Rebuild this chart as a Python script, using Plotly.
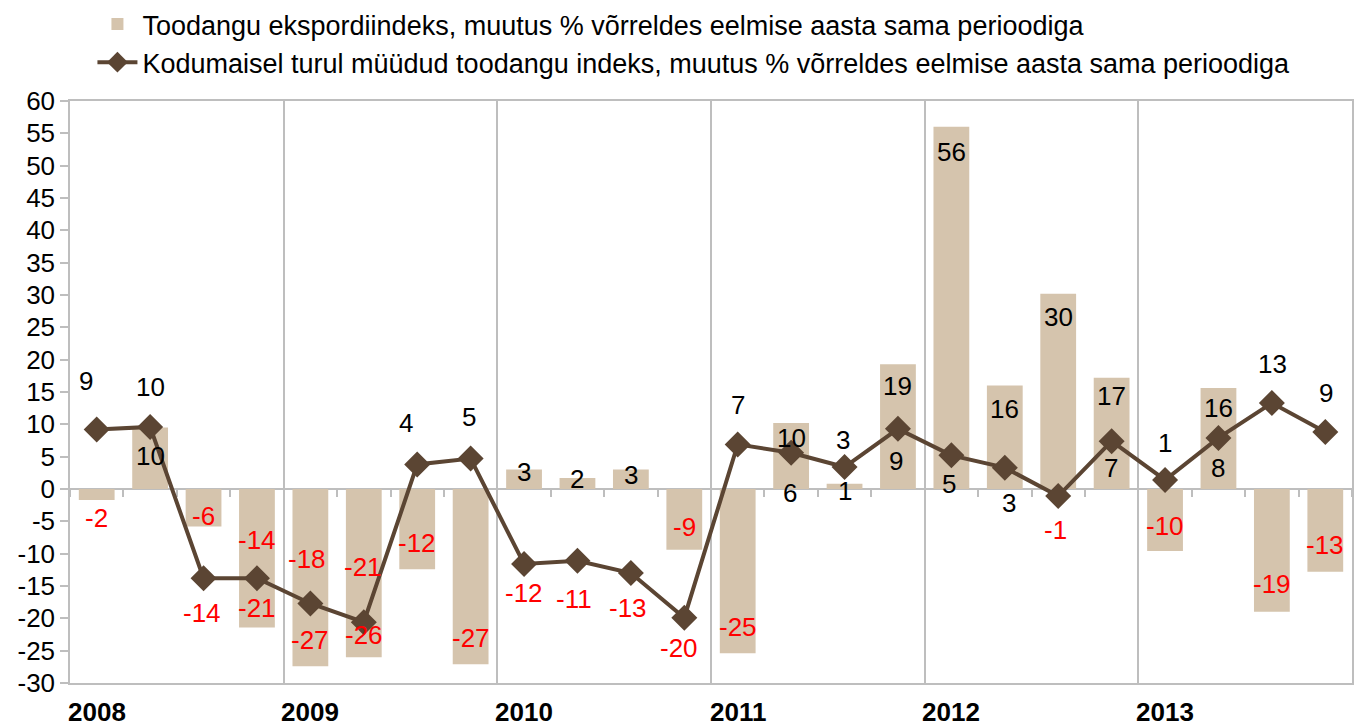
import plotly.graph_objects as go

quarters = ["2008 I", "2008 II", "2008 III", "2008 IV",
            "2009 I", "2009 II", "2009 III", "2009 IV",
            "2010 I", "2010 II", "2010 III", "2010 IV",
            "2011 I", "2011 II", "2011 III", "2011 IV",
            "2012 I", "2012 II", "2012 III", "2012 IV",
            "2013 I", "2013 II", "2013 III", "2013 IV"]
years = ["2008", "2009", "2010", "2011", "2012", "2013"]

export_idx = [-1.7, 9.5, -5.8, -21.4, -27.4, -26.0, -12.4, -27.1,
              3.0, 1.7, 3.0, -9.4, -25.4, 10.2, 0.8, 19.3,
              56.0, 16.0, 30.2, 17.2, -9.6, 15.6, -19.0, -12.8]
domestic_idx = [9.2, 9.6, -13.8, -13.8, -17.7, -20.6, 3.8, 4.7,
                -11.6, -11.1, -13.0, -19.9, 6.9, 5.6, 3.4, 9.3,
                5.2, 3.3, -1.1, 7.4, 1.4, 7.9, 13.3, 8.8]

y_tick_vals = [-30, -25, -20, -15, -10, -5, 0, 5, 10, 15, 20, 25, 30, 35, 40, 45, 50, 55, 60]
y_tick_text = ["-30", "-25", "-20", "-15", "-10", "-5", "0", "5", "10", "15", "20",
               "25", "30", "35", "40", "45", "50", "55", "60"]

name_bar = "Toodangu ekspordiindeks, muutus % võrreldes eelmise aasta sama perioodiga"
name_line = "Kodumaisel turul müüdud toodangu indeks, muutus % võrreldes eelmise aasta sama perioodiga"

# label placement offsets in pixels (screen down = positive)
bar_lbl_dy = [18, 28, -11, -19, -26, -22, -26, -26, 2, 1, 5, -23,
              -26, 15, 7, 22, 25, 23, 23, 18, -25, 20, -28, -27]
line_lbl_dy = [-49, -40, 35, -38, -44, -55, -41, -42, 29, 38, 35, 30,
               -39, 40, -27, 32, 29, 35, 34, 27, -37, 30, -39, -39]
line_lbl_dx = [-11, 0, -2, 0, -3, -1, -11, -2, 0, -3, -3, -5,
               0, -1, -2, -2, -2, 4, -3, -1, 0, 0, 1, 1]

n = len(quarters)
xs = list(range(n))
BAR_COLOR = "#D5C4AD"
LINE_COLOR = "#5B4533"
AXIS_COLOR = "#BEBEBE"
FONT = "Liberation Sans, Arial, sans-serif"
FS = 26


def lbl(v):
    r = round(v)
    return f"-{abs(r)}" if r < 0 else f"{r}"


fig = go.Figure()
fig.add_trace(go.Bar(x=xs, y=export_idx, name=name_bar, marker_color=BAR_COLOR,
                     marker_line_width=0, hovertext=quarters))
fig.add_trace(go.Scatter(x=xs, y=domestic_idx, name=name_line, mode="lines+markers",
                         line=dict(color=LINE_COLOR, width=4),
                         marker=dict(symbol="diamond", size=20, color=LINE_COLOR),
                         hovertext=quarters, xaxis="x2"))

ann = []
for i, v in enumerate(export_idx):
    ann.append(dict(x=i, y=v, xref="x", yref="y", text=lbl(v), showarrow=False,
                    yshift=-bar_lbl_dy[i], yanchor="middle",
                    font=dict(family=FONT, size=FS, color="#FF0000" if v < 0 else "#000000")))
for i, v in enumerate(domestic_idx):
    ann.append(dict(x=i, y=v, xref="x", yref="y", text=lbl(v), showarrow=False,
                    yshift=-line_lbl_dy[i], xshift=line_lbl_dx[i], yanchor="middle",
                    font=dict(family=FONT, size=FS, color="#FF0000" if v < 0 else "#000000")))
per_year = n // len(years)
for k, yr in enumerate(years):
    ann.append(dict(x=k * per_year, y=0, xref="x", yref="paper", text=f"<b>{yr}</b>",
                    showarrow=False, yshift=-29, yanchor="middle",
                    font=dict(family=FONT, size=FS, color="#000000")))

year_bounds = [k * per_year - 0.5 for k in range(1, len(years))]
all_bounds = [i - 0.5 for i in range(n + 1)]
ymin, ymax = y_tick_vals[0], y_tick_vals[-1]

fig.update_layout(
    width=1362, height=726,
    margin=dict(l=70, r=10, t=101, b=43, autoexpand=False),
    plot_bgcolor="white", paper_bgcolor="white",
    font=dict(family=FONT, size=FS, color="#000000"),
    bargap=0.33,
    showlegend=True,
    legend=dict(orientation="v", x=0.0175, y=1.016, xanchor="left", yanchor="top",
                yref="container",
                font=dict(family=FONT, size=27), bgcolor="rgba(0,0,0,0)",
                tracegroupgap=0, itemwidth=40),
    xaxis=dict(range=[-0.5, n - 0.5], tickmode="array", tickvals=year_bounds,
               showticklabels=False, ticks="", showgrid=True, gridcolor=AXIS_COLOR,
               gridwidth=1.5, showline=True, linecolor=AXIS_COLOR, linewidth=1.5,
               mirror=True, zeroline=False, automargin=False),
    xaxis2=dict(range=[-0.5, n - 0.5], overlaying="x", anchor="free",
                position=(0 - ymin) / (ymax - ymin), side="bottom",
                tickmode="array", tickvals=all_bounds, ticks="outside", ticklen=7,
                tickwidth=1.5, tickcolor=AXIS_COLOR, showticklabels=False,
                showgrid=False, showline=True, linecolor=AXIS_COLOR, linewidth=2,
                zeroline=False, layer="below traces", automargin=False),
    yaxis=dict(range=[ymin, ymax], tickmode="array", tickvals=y_tick_vals,
               ticktext=y_tick_text, ticks="outside", ticklen=8,
               tickwidth=1.5, tickcolor=AXIS_COLOR, showgrid=False, zeroline=False,
               showline=True, linecolor=AXIS_COLOR, linewidth=1.5, mirror=True,
               tickfont=dict(family=FONT, size=FS), automargin=False),
    annotations=ann,
)

fig.write_html("out.html", config={"displayModeBar": False},
               post_script="document.body.style.margin='0';")
